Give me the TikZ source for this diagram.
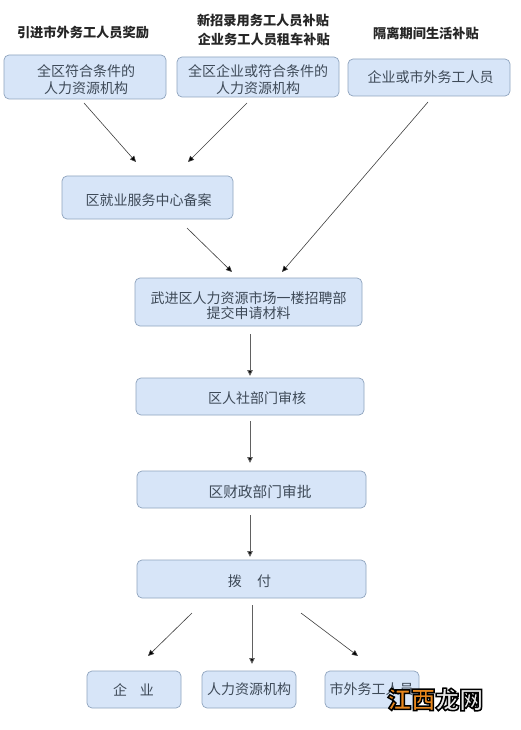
\documentclass[tikz,border=0pt]{standalone}
\usepackage{fontspec}
\usetikzlibrary{arrows.meta}
\setmainfont{Noto Sans CJK SC}
\definecolor{boxfill}{HTML}{D7E5F8}
\definecolor{boxline}{HTML}{8FA4BE}
\definecolor{boxtext}{HTML}{3E4A58}
\definecolor{wmorange}{HTML}{E8871E}
\definecolor{wmlight}{HTML}{E8E8E8}
\tikzset{
  box/.style={draw=boxline,fill=boxfill,line width=0.7pt,rounded corners=5pt,inner sep=0pt},
  lab/.style={inner sep=0pt,align=center,text=boxtext,font=\fontsize{14}{17}\selectfont},
  heading/.style={inner sep=0pt,align=center,text=black!85,font=\fontsize{13.2}{19}\selectfont\bfseries},
  flow/.style={draw=black!75,line width=0.6pt,-{Triangle[length=6pt,width=5.5pt,fill=black]}},
  flowv/.style={flow,draw=black!62,line width=0.95pt},
  wm/.style={inner sep=0pt,font=\fontsize{24}{24}\selectfont\bfseries},
}
\begin{document}
\begin{tikzpicture}[x=1pt,y=-1pt]
\useasboundingbox (0,0) rectangle (520,730);
\fill[white] (0,0) rectangle (520,730);
% headings
\node[heading] (h1) at (83,32.5) {引进市外务工人员奖励};
\node[heading] (h2) at (263,30) {新招录用务工人员补贴\\\hspace*{1.5pt}企业务工人员租车补贴};
\node[heading] (h3) at (426,33) {隔离期间生活补贴};
% boxes
\node[box,minimum width=162pt,minimum height=44pt,label={[lab,xshift=1pt,yshift=-2.5pt]center:{全区符合条件的\\人力资源机构}}] (n1) at (85,77) {};
\node[box,minimum width=162pt,minimum height=40pt,label={[lab,yshift=-2.5pt]center:{全区企业或符合条件的\\人力资源机构}}] (n2) at (258,77) {};
\node[box,minimum width=162pt,minimum height=37pt,label={[lab,xshift=1.5pt,yshift=0.5pt]center:{企业或市外务工人员}}] (n3) at (429,77.5) {};
\node[box,minimum width=171pt,minimum height=43pt,label={[lab,xshift=1pt,yshift=-2.5pt]center:{区就业服务中心备案}}] (n4) at (147.5,197.5) {};
\node[box,minimum width=227pt,minimum height=48pt,label={[lab,font=\fontsize{14}{15.5}\selectfont,yshift=-3.5pt]center:{武进区人力资源市场一楼招聘部\\提交申请材料}}] (n5) at (248.5,302) {};
\node[box,minimum width=228pt,minimum height=37pt,label={[lab,xshift=7pt,yshift=-1.5pt]center:{区人社部门审核}}] (n6) at (250,396.5) {};
\node[box,minimum width=229pt,minimum height=37pt,label={[lab,font=\fontsize{14.7}{17}\selectfont,xshift=8.5pt,yshift=-2.5pt]center:{区财政部门审批}}] (n7) at (251.5,489.5) {};
\node[box,minimum width=229pt,minimum height=38pt,label={[lab,xshift=-2pt,yshift=-2pt]center:{拨\hspace{1.1em}付}}] (n8) at (251.5,579) {};
\node[box,minimum width=94pt,minimum height=37pt,label={[lab,xshift=-0.5pt]center:{企\hspace{0.9em}业}}] (n9) at (134,689.5) {};
\node[box,minimum width=94pt,minimum height=37pt,label={[lab]center:{人力资源机构}}] (n10) at (249,689.5) {};
\node[box,minimum width=94pt,minimum height=37pt,label={[lab,xshift=-0.5pt]center:{市外务工人员}}] (n11) at (372,689.5) {};
% connector ends
\coordinate (a1s) at (84,103);   \coordinate (a1e) at (136,162);
\coordinate (a2s) at (247,103);  \coordinate (a2e) at (188,162);
\coordinate (a3s) at (428,102);  \coordinate (a3e) at (282,272);
\coordinate (a4s) at (187,228);  \coordinate (a4e) at (232,272);
\coordinate (a5s) at (250,334);  \coordinate (a5e) at (250,376);
\coordinate (a6s) at (250,421);  \coordinate (a6e) at (250,463);
\coordinate (a7s) at (250,515);  \coordinate (a7e) at (250,557);
\coordinate (a8s) at (192,613);  \coordinate (a8e) at (148,656);
\coordinate (a9s) at (252,605);  \coordinate (a9e) at (252,664);
\coordinate (a10s) at (301,613); \coordinate (a10e) at (358,656);
\foreach \k in {1,2,3,4,8,10} \draw[flow] (a\k s) -- (a\k e);
\foreach \k in {5,6,7,9} \draw[flowv] (a\k s) -- (a\k e);
% watermark
\node[wm,text=wmorange,anchor=west] (w1) at (387,699.5) {\special{pdf:code 2 Tr 1.5 w 0 0 0 RG}江西\special{pdf:code 0 Tr}};
\node[wm,text=wmlight,anchor=west] (w2) at (435,699.5) {\special{pdf:code 2 Tr 1.5 w 0 0 0 RG}龙网\special{pdf:code 0 Tr}};
\end{tikzpicture}
\end{document}
